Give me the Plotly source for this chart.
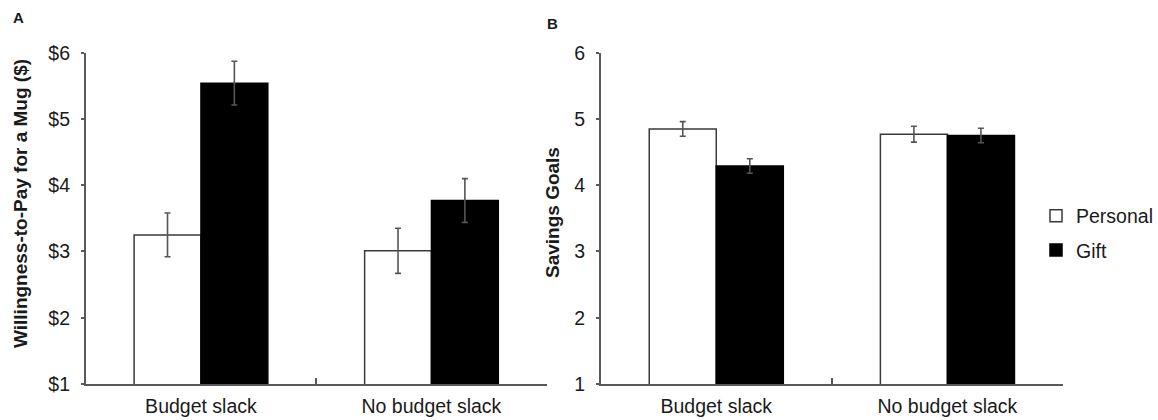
import plotly.graph_objects as go

# ---- data ----
categories = ["Budget slack", "No budget slack"]
series_names = ["Personal", "Gift"]

wtp_personal = [3.25, 3.01]
wtp_personal_err = [0.33, 0.34]
wtp_gift = [5.54, 3.77]
wtp_gift_err = [0.33, 0.33]

sav_personal = [4.85, 4.77]
sav_personal_err = [0.11, 0.12]
sav_gift = [4.29, 4.75]
sav_gift_err = [0.11, 0.11]

y_ticks = [1, 2, 3, 4, 5, 6]
wtp_tick_labels = ["$1", "$2", "$3", "$4", "$5", "$6"]
sav_tick_labels = ["1", "2", "3", "4", "5", "6"]

W, H = 1158, 420
FONT = "Liberation Sans, Arial, Helvetica, sans-serif"
TXT = "#1a1a1a"
AX = "#595959"
ERR = "#555555"

def px_x(p):
    return p / W

def px_y(p):
    return 1 - p / H

fig = go.Figure()

def add_pair(personal, personal_err, gift, gift_err, xa, ya, show):
    fig.add_trace(go.Bar(
        x=categories, y=personal, name=series_names[0],
        legendgroup="p", showlegend=show,
        marker=dict(color="white", line=dict(color="#3a3a3a", width=1.5)),
        error_y=dict(type="data", array=personal_err, color=ERR, thickness=1.6, width=3),
        xaxis=xa, yaxis=ya,
    ))
    fig.add_trace(go.Bar(
        x=categories, y=gift, name=series_names[1],
        legendgroup="g", showlegend=show,
        marker=dict(color="black", line=dict(color="black", width=1.5)),
        error_y=dict(type="data", array=gift_err, color=ERR, thickness=1.6, width=3),
        xaxis=xa, yaxis=ya,
    ))

add_pair(wtp_personal, wtp_personal_err, wtp_gift, wtp_gift_err, "x", "y", False)
add_pair(sav_personal, sav_personal_err, sav_gift, sav_gift_err, "x2", "y2", True)

ydom = [px_y(384), px_y(52.7)]

xcommon = dict(
    type="category", range=[-0.5, 1.5], showline=True, linecolor=AX, linewidth=1.5,
    ticks="inside", tickson="boundaries", ticklen=6, tickcolor=AX, tickwidth=1.5,
    showgrid=False, zeroline=False, fixedrange=True, automargin=False,
    tickfont=dict(family=FONT, size=19.5, color=TXT), ticklabelstandoff=4,
)
ycommon = dict(
    range=[1, 6], tickmode="array", tickvals=y_ticks, showline=True, linecolor=AX,
    linewidth=1.5, ticks="outside", ticklen=3, tickcolor=AX, tickwidth=1.5,
    showgrid=False, zeroline=False, fixedrange=True, automargin=False,
    tickfont=dict(family=FONT, size=19.5, color=TXT), ticklabelstandoff=7,
)

fig.update_layout(
    width=W, height=H, autosize=False,
    margin=dict(l=0, r=0, t=0, b=0, pad=0, autoexpand=False),
    paper_bgcolor="white", plot_bgcolor="white",
    barmode="group", bargap=0.42, bargroupgap=0,
    font=dict(family=FONT, color=TXT),
    xaxis=dict(domain=[px_x(85.7), px_x(546.7)], anchor="y", **xcommon),
    yaxis=dict(domain=ydom, anchor="x", ticktext=wtp_tick_labels, **ycommon),
    xaxis2=dict(domain=[px_x(600.7), px_x(1063)], anchor="y2", **xcommon),
    yaxis2=dict(domain=ydom, anchor="x2", ticktext=sav_tick_labels, **ycommon),
    legend=dict(
        x=px_x(1036), y=px_y(233), xanchor="left", yanchor="middle",
        font=dict(family=FONT, size=19.5, color=TXT),
        bgcolor="rgba(0,0,0,0)", tracegroupgap=6, itemwidth=30,
    ),
    showlegend=True,
)

def label(text, x, y, size, angle=0):
    return dict(text=text, x=px_x(x), y=px_y(y), xref="paper", yref="paper",
                xanchor="center", yanchor="middle", showarrow=False,
                textangle=angle, font=dict(family=FONT, size=size, color=TXT))

annotations = [
    label("<b>A</b>", 18, 18, 15),
    label("<b>B</b>", 552, 23, 15),
    label("<b>Willingness-to-Pay for a Mug ($)</b>", 20, 204, 19, -90),
    label("<b>Savings Goals</b>", 552, 213, 19, -90),
]
fig.update_layout(annotations=annotations)

fig.write_html(
    "out.html",
    config={"displayModeBar": False},
    post_script="document.body.style.margin='0';document.body.style.overflow='hidden';",
)
